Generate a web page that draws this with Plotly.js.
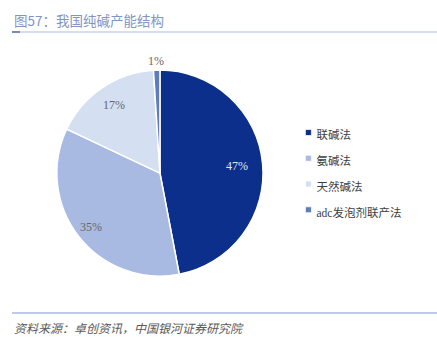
<!DOCTYPE html>
<html><head><meta charset="utf-8">
<script src="https://cdn.plot.ly/plotly-3.0.1.min.js"></script>
<style>html,body{margin:0;padding:0;background:#fff}#c{width:437px;height:350px}</style>
</head><body><div id="c"></div>
<script>
const categories = ['联碱法', '氨碱法', '天然碱法', 'adc发泡剂联产法'];
const shares = [47, 35, 17, 1];
const labelsText = ['47%', '35%', '17%', '1%'];
const colors = ['#0b2f8a', '#a8bae2', '#d4e0f2', '#5f7db8'];
const labelColors = ['#e4e8f2', '#666666', '#666666', '#666666'];
const labelRadius = [0.75, 0.85, 0.80, 1.09];

const font = '"Liberation Serif", "Noto Sans CJK SC", serif';
const dom = {x: [0.130, 0.602], y: [0.211, 0.800]};
const W = 437, H = 350;

const trace = {
  type: 'pie',
  labels: categories.map(c => '<span style="font-size:11.5px">' + c + '</span>'),
  values: shares,
  textinfo: 'none',
  sort: false,
  direction: 'clockwise',
  rotation: 0,
  marker: {colors: colors, line: {color: '#ffffff', width: 1.5}},
  domain: dom,
  hoverinfo: 'none'
};

// slice label positions derived from the data (mid-angle of each slice)
const cx = (dom.x[0] + dom.x[1]) / 2, cy = (dom.y[0] + dom.y[1]) / 2;
const rPx = Math.min((dom.x[1] - dom.x[0]) * W, (dom.y[1] - dom.y[0]) * H) / 2;
const total = shares.reduce((a, b) => a + b, 0);
let cum = 0;
const sliceAnn = shares.map((v, i) => {
  const mid = (cum + v / 2) / total * 2 * Math.PI; cum += v;
  const r = rPx * labelRadius[i];
  return {xref: 'paper', yref: 'paper', showarrow: false,
    x: cx + r * Math.sin(mid) / W, y: cy + r * Math.cos(mid) / H,
    xanchor: 'center', yanchor: 'middle', text: labelsText[i],
    font: {family: font, size: 12, color: labelColors[i]}};
});

const layout = {
  width: W, height: H,
  margin: {l: 0, r: 0, t: 0, b: 0},
  paper_bgcolor: '#ffffff',
  showlegend: true,
  legend: {x: 0.660, y: 0.511, xanchor: 'left', yanchor: 'middle',
    font: {family: font, size: 17.5, color: '#404040'}, itemwidth: 30},
  shapes: [
    {type: 'line', xref: 'paper', yref: 'paper', x0: 12/437, x1: 1, y0: 1-32/350, y1: 1-32/350, line: {color: '#c8d2ea', width: 1.5}},
    {type: 'line', xref: 'paper', yref: 'paper', x0: 12/437, x1: 20/437, y0: 1-32/350, y1: 1-32/350, line: {color: '#5a6e9e', width: 1.5}},
    {type: 'line', xref: 'paper', yref: 'paper', x0: 12/437, x1: 1, y0: 1-313/350, y1: 1-313/350, line: {color: '#a9b8e0', width: 1.5}}
  ],
  annotations: sliceAnn.concat([
    {xref: 'paper', yref: 'paper', x: 12/437, y: 1-20/350, xanchor: 'left', yanchor: 'middle', showarrow: false,
     text: '图57：我国纯碱产能结构', font: {family: '"Noto Sans CJK SC", sans-serif', size: 13.5, color: '#8294c4'}},
    {xref: 'paper', yref: 'paper', x: 12/437, y: 1-327/350, xanchor: 'left', yanchor: 'middle', showarrow: false,
     text: '<i>资料来源：卓创资讯，中国银河证券研究院</i>', font: {family: '"Noto Sans CJK SC", sans-serif', size: 12, color: '#595959'}}
  ])
};
Plotly.newPlot('c', [trace], layout, {displayModeBar: false, staticPlot: true}).then(gd => {
  gd.querySelectorAll('.legend .legendpoints path').forEach(p => {
    const t = p.getAttribute('transform') || '';
    p.setAttribute('transform', t + ' scale(0.5)');
  });
  gd.querySelectorAll('.legend .legendtext').forEach(t => {
    t.setAttribute('x', String(parseFloat(t.getAttribute('x') || '40') - 12));
  });
});
</script></body></html>
